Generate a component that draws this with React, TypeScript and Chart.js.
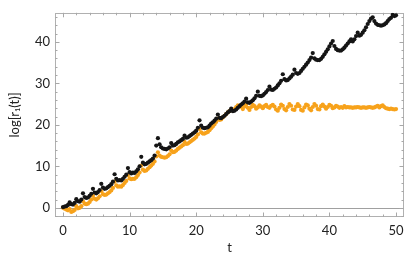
import { useEffect, useRef } from "react";
import { Chart, registerables } from "chart.js";

Chart.register(...registerables);

// sampling step of the time axis
const T_STEP = 0.25;

// black series, log[r1(t)], one value every 0.25 in t (rows of 2 time units)
const blackSeries = [
  0.2, 0.3, 0.4, 0.7, 1.3, 0.9, 0.8, 1.2,
  2.1, 1.6, 1.5, 2.0, 3.5, 2.6, 2.4, 2.5,
  2.9, 3.4, 4.6, 3.7, 3.5, 3.8, 4.3, 5.8,
  4.9, 4.6, 4.7, 5.0, 5.3, 5.7, 6.3, 8.1,
  7.0, 6.6, 6.7, 6.6, 7.0, 7.5, 8.0, 9.6,
  8.6, 8.3, 8.5, 8.4, 8.8, 9.3, 10.0, 12.3,
  10.9, 10.5, 10.6, 10.9, 11.2, 11.5, 11.9, 12.6,
  15.0, 16.8, 15.3, 14.6, 14.3, 14.2, 14.1, 14.3,
  14.6, 15.6, 15.0, 15.1, 15.4, 15.8, 16.0, 16.3,
  16.6, 17.4, 16.9, 17.0, 17.3, 17.6, 17.9, 18.2,
  18.6, 19.3, 21.1, 19.8, 19.3, 19.2, 19.3, 19.4,
  19.8, 20.3, 20.6, 21.0, 21.5, 22.5, 21.7, 21.6,
  21.9, 22.2, 22.6, 23.0, 23.3, 23.9, 23.3, 23.4,
  23.7, 24.1, 24.5, 24.9, 25.2, 25.6, 26.3, 25.4,
  25.3, 25.6, 25.9, 26.4, 27.0, 28.0, 27.0, 26.9,
  27.1, 27.5, 27.9, 28.4, 29.2, 28.5, 28.4, 28.7,
  29.0, 29.5, 30.0, 30.6, 32.2, 31.0, 30.7, 30.8,
  31.2, 31.6, 32.1, 33.3, 32.5, 32.3, 32.5, 33.0,
  33.5, 34.0, 34.5, 35.0, 35.6, 36.2, 37.3, 36.0,
  35.7, 35.6, 35.6, 35.9, 36.4, 37.0, 37.6, 38.2,
  38.9, 39.6, 40.2, 39.0, 38.3, 38.0, 37.9, 37.9,
  38.2, 38.6, 39.1, 39.6, 40.1, 40.6, 40.1, 40.6,
  41.4, 42.2, 41.5, 41.7, 42.2, 42.8, 43.5, 44.3,
  45.0, 45.6, 45.9, 45.0, 44.4, 44.1, 44.0, 43.9,
  44.0, 44.2, 44.5, 45.0, 45.5, 45.8, 46.5, 46.2,
  46.4,
];

// orange series, one value every 0.25 in t
const orangeSeries = [
  0.0, -0.2, -0.4, -0.6, -0.3, -1.0, -0.8, -0.5,
  0.4, -0.1, 0.0, 0.4, 1.6, 1.0, 0.9, 1.0,
  1.4, 2.0, 2.9, 2.2, 2.0, 2.3, 2.8, 4.0,
  3.3, 3.1, 3.2, 3.5, 3.8, 4.2, 4.8, 6.3,
  5.4, 5.1, 5.2, 5.1, 5.5, 6.0, 6.5, 7.9,
  7.1, 6.9, 7.0, 7.0, 7.4, 7.9, 8.5, 10.2,
  9.2, 8.9, 9.0, 9.4, 9.8, 10.2, 10.6, 11.2,
  12.4, 13.4, 12.6, 12.3, 12.2, 12.1, 12.2, 12.5,
  12.9, 13.8, 13.4, 13.5, 13.8, 14.2, 14.5, 14.8,
  15.1, 15.9, 15.4, 15.5, 15.8, 16.1, 16.4, 16.7,
  17.1, 17.7, 19.0, 18.2, 17.9, 17.9, 18.1, 18.3,
  18.7, 19.2, 19.6, 20.1, 20.7, 21.5, 21.2, 21.3,
  21.8, 22.2, 22.6, 23.0, 23.3, 23.7, 23.5, 23.8,
  24.3, 24.7, 24.6, 24.3, 23.8, 24.4, 24.9, 24.1,
  23.6, 24.3, 24.8, 24.5, 23.9, 24.2, 24.7, 24.4,
  24.0, 24.5, 24.8, 24.3, 24.1, 24.6, 24.8, 24.4,
  23.7, 23.4, 24.1, 24.9, 24.6, 23.8, 23.5, 24.3,
  25.0, 24.6, 23.7, 23.6, 24.4, 25.0, 24.5, 23.6,
  23.4, 24.2, 24.9, 24.7, 23.9, 23.5, 24.3, 25.0,
  24.6, 23.8, 23.7, 24.5, 24.9, 24.4, 23.9, 24.3,
  24.8, 24.6, 24.0, 24.2, 24.6, 24.4, 24.1, 24.3,
  24.1, 24.5, 24.2, 24.3, 24.2, 24.2, 24.1, 24.2,
  24.2, 24.3, 24.2, 24.1, 24.2, 24.2, 24.1, 24.2,
  24.3, 24.2, 24.1, 24.2, 24.4, 24.6, 24.2, 24.5,
  24.7, 24.3, 24.0, 23.9, 23.8, 23.9, 23.8, 23.7,
  23.8,
];

const xTicks = [0, 10, 20, 30, 40, 50];
const yTicks = [0, 10, 20, 30, 40];
const X_MIN = -1.2;
const X_MAX = 51.2;
const Y_MIN = -2.2;
const Y_MAX = 47;
const MINOR_STEP = 2;

const xLabel = "t";
const yLabel = "log[r\u2081(t)]";

const toPoints = (vals: number[]) => vals.map((v, i) => ({ x: i * T_STEP, y: v }));

const framePlugin = {
  id: "mmaFrame",
  beforeDatasetsDraw(chart: any) {
    const { ctx, chartArea: a, scales } = chart;
    const xs = scales.x;
    const ys = scales.y;
    ctx.save();
    ctx.lineWidth = 1;
    // horizontal axis at y = 0
    ctx.strokeStyle = "#a0a0a0";
    const y0 = Math.round(ys.getPixelForValue(0)) + 0.5;
    ctx.beginPath();
    ctx.moveTo(a.left, y0);
    ctx.lineTo(a.right, y0);
    ctx.stroke();
    // frame
    ctx.strokeStyle = "#b0b0b0";
    ctx.strokeRect(Math.round(a.left) + 0.5, Math.round(a.top) + 0.5, Math.round(a.right - a.left) - 1, Math.round(a.bottom - a.top) - 1);
    // ticks
    ctx.strokeStyle = "#a8a8a8";
    ctx.beginPath();
    for (let v = Math.ceil(X_MIN / MINOR_STEP) * MINOR_STEP; v <= X_MAX; v += MINOR_STEP) {
      const major = xTicks.includes(v);
      const len = major ? 4.5 : 2.5;
      const px = Math.round(xs.getPixelForValue(v)) + 0.5;
      ctx.moveTo(px, a.bottom);
      ctx.lineTo(px, a.bottom - len);
      ctx.moveTo(px, a.top);
      ctx.lineTo(px, a.top + len);
    }
    for (let v = Math.ceil(Y_MIN / MINOR_STEP) * MINOR_STEP; v <= Y_MAX; v += MINOR_STEP) {
      const major = yTicks.includes(v);
      const len = major ? 4.5 : 2.5;
      const py = Math.round(ys.getPixelForValue(v)) + 0.5;
      ctx.moveTo(a.left, py);
      ctx.lineTo(a.left + len, py);
      ctx.moveTo(a.right, py);
      ctx.lineTo(a.right - len, py);
    }
    ctx.stroke();
    ctx.restore();
  },
};

export default function App() {
  const ref = useRef<HTMLCanvasElement | null>(null);
  useEffect(() => {
    if (!ref.current) return;
    const font = { family: "Lato, 'Liberation Sans', sans-serif", size: 13 };
    const chart = new Chart(ref.current, {
      type: "scatter",
      data: {
        datasets: [
          {
            label: "black",
            data: toPoints(blackSeries),
            backgroundColor: "#151515",
            borderWidth: 0,
            pointRadius: 2.1,
          },
          {
            label: "orange",
            data: toPoints(orangeSeries),
            backgroundColor: "#f7a21b",
            borderWidth: 0,
            pointRadius: 2.1,
          },
        ],
      },
      options: {
        animation: false,
        responsive: false,
        layout: { padding: { top: 2, right: 11, left: 0, bottom: 0 } },
        plugins: { legend: { display: false }, tooltip: { enabled: false } },
        scales: {
          x: {
            type: "linear",
            min: X_MIN,
            max: X_MAX,
            grid: { display: false, drawTicks: false },
            border: { display: false },
            afterBuildTicks: (s: any) => {
              s.ticks = xTicks.map((v) => ({ value: v }));
            },
            afterFit: (s: any) => {
              s.height = 41;
            },
            ticks: { color: "#222", font, padding: 6, maxRotation: 0 },
            title: { display: true, text: xLabel, color: "#222", font, padding: { top: 0, bottom: 2 } },
          },
          y: {
            type: "linear",
            min: Y_MIN,
            max: Y_MAX,
            grid: { display: false, drawTicks: false },
            border: { display: false },
            afterBuildTicks: (s: any) => {
              s.ticks = yTicks.map((v) => ({ value: v }));
            },
            afterFit: (s: any) => {
              s.width = 55;
            },
            ticks: { color: "#222", font, padding: 5 },
            title: { display: true, text: yLabel, color: "#222", font, padding: { top: 7, bottom: 0 } },
          },
        },
      },
      plugins: [framePlugin],
    } as any);
    return () => chart.destroy();
  }, []);
  return (
    <div style={{ position: "fixed", left: 0, top: 0, width: 415, height: 258, background: "#fff" }}>
      <canvas ref={ref} width={415} height={258} style={{ display: "block" }} />
    </div>
  );
}
